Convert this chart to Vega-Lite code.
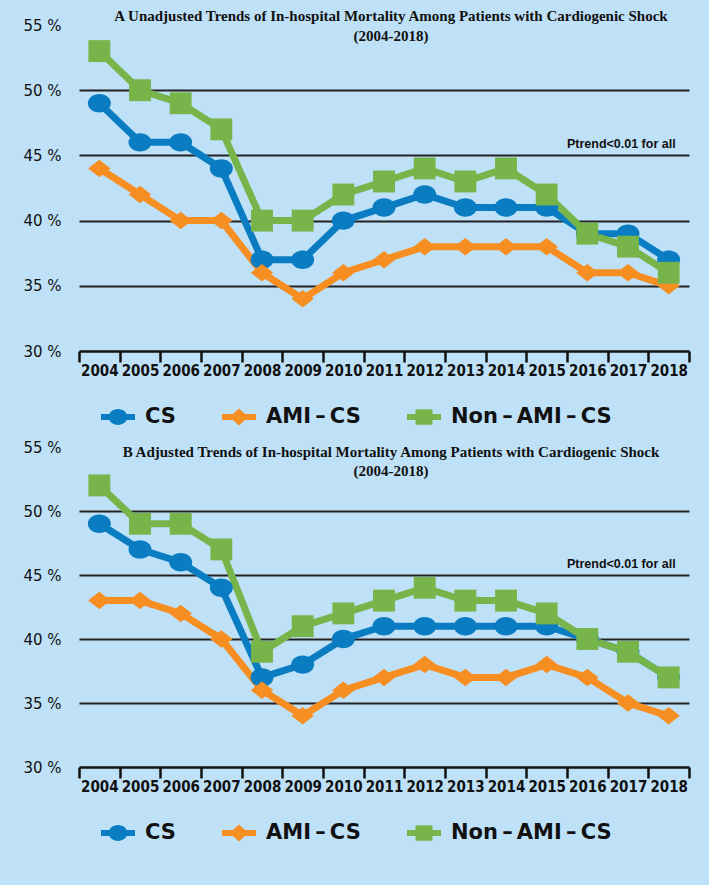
{
  "$schema": "https://vega.github.io/schema/vega-lite/v6.json",
  "background": "#bfe1f8",
  "padding": {"left": 22, "top": 9, "right": 20, "bottom": 42},
  "config": {
    "view": {"stroke": null},
    "font": "DejaVu Sans",
    "axisY": {
      "title": null, "domain": false, "ticks": false,
      "labelFont": "DejaVu Sans", "labelFontSize": 15, "labelColor": "#111",
      "labelPadding": 18, "gridColor": "#222", "gridWidth": 2,
      "gridOpacity": {"condition": {"test": "datum.value == 55 || datum.value == 30", "value": 0}, "value": 1},
      "labelExpr": "datum.value + ' %'"
    },
    "axisX": {
      "title": null, "labelAngle": 0, "domainColor": "#111", "domainWidth": 2.5,
      "tickColor": "#111", "tickWidth": 2.5, "tickSize": 11, "tickBand": "extent",
      "labelFont": "Liberation Sans Narrow, DejaVu Sans Condensed, sans-serif",
      "labelFontWeight": "bold", "labelFontSize": 15, "labelColor": "#111", "labelPadding": 1, "grid": false
    },
    "legend": {
      "orient": "bottom", "direction": "horizontal", "title": null,
      "labelFont": "DejaVu Sans", "labelFontWeight": "bold", "labelFontSize": 21, "labelColor": "#111", "labelLimit": 400,
      "symbolSize": 1156, "symbolStrokeWidth": 0, "columnPadding": 24, "labelOffset": 10, "offset": 22, "symbolOffset": 22
    },
    "title": {"font": "Liberation Serif", "fontWeight": "bold", "fontSize": 15, "color": "#111", "anchor": "middle", "frame": "group"}
  },
  "datasets": {
    "A": [
      {"year": "2004", "series": "CS", "value": 49}, {"year": "2005", "series": "CS", "value": 46}, {"year": "2006", "series": "CS", "value": 46}, {"year": "2007", "series": "CS", "value": 44}, {"year": "2008", "series": "CS", "value": 37}, {"year": "2009", "series": "CS", "value": 37}, {"year": "2010", "series": "CS", "value": 40}, {"year": "2011", "series": "CS", "value": 41}, {"year": "2012", "series": "CS", "value": 42}, {"year": "2013", "series": "CS", "value": 41}, {"year": "2014", "series": "CS", "value": 41}, {"year": "2015", "series": "CS", "value": 41}, {"year": "2016", "series": "CS", "value": 39}, {"year": "2017", "series": "CS", "value": 39}, {"year": "2018", "series": "CS", "value": 37},
      {"year": "2004", "series": "AMI-CS", "value": 44}, {"year": "2005", "series": "AMI-CS", "value": 42}, {"year": "2006", "series": "AMI-CS", "value": 40}, {"year": "2007", "series": "AMI-CS", "value": 40}, {"year": "2008", "series": "AMI-CS", "value": 36}, {"year": "2009", "series": "AMI-CS", "value": 34}, {"year": "2010", "series": "AMI-CS", "value": 36}, {"year": "2011", "series": "AMI-CS", "value": 37}, {"year": "2012", "series": "AMI-CS", "value": 38}, {"year": "2013", "series": "AMI-CS", "value": 38}, {"year": "2014", "series": "AMI-CS", "value": 38}, {"year": "2015", "series": "AMI-CS", "value": 38}, {"year": "2016", "series": "AMI-CS", "value": 36}, {"year": "2017", "series": "AMI-CS", "value": 36}, {"year": "2018", "series": "AMI-CS", "value": 35},
      {"year": "2004", "series": "Non-AMI-CS", "value": 53}, {"year": "2005", "series": "Non-AMI-CS", "value": 50}, {"year": "2006", "series": "Non-AMI-CS", "value": 49}, {"year": "2007", "series": "Non-AMI-CS", "value": 47}, {"year": "2008", "series": "Non-AMI-CS", "value": 40}, {"year": "2009", "series": "Non-AMI-CS", "value": 40}, {"year": "2010", "series": "Non-AMI-CS", "value": 42}, {"year": "2011", "series": "Non-AMI-CS", "value": 43}, {"year": "2012", "series": "Non-AMI-CS", "value": 44}, {"year": "2013", "series": "Non-AMI-CS", "value": 43}, {"year": "2014", "series": "Non-AMI-CS", "value": 44}, {"year": "2015", "series": "Non-AMI-CS", "value": 42}, {"year": "2016", "series": "Non-AMI-CS", "value": 39}, {"year": "2017", "series": "Non-AMI-CS", "value": 38}, {"year": "2018", "series": "Non-AMI-CS", "value": 36}
    ],
    "B": [
      {"year": "2004", "series": "CS", "value": 49}, {"year": "2005", "series": "CS", "value": 47}, {"year": "2006", "series": "CS", "value": 46}, {"year": "2007", "series": "CS", "value": 44}, {"year": "2008", "series": "CS", "value": 37}, {"year": "2009", "series": "CS", "value": 38}, {"year": "2010", "series": "CS", "value": 40}, {"year": "2011", "series": "CS", "value": 41}, {"year": "2012", "series": "CS", "value": 41}, {"year": "2013", "series": "CS", "value": 41}, {"year": "2014", "series": "CS", "value": 41}, {"year": "2015", "series": "CS", "value": 41}, {"year": "2016", "series": "CS", "value": 40}, {"year": "2017", "series": "CS", "value": 39}, {"year": "2018", "series": "CS", "value": 37},
      {"year": "2004", "series": "AMI-CS", "value": 43}, {"year": "2005", "series": "AMI-CS", "value": 43}, {"year": "2006", "series": "AMI-CS", "value": 42}, {"year": "2007", "series": "AMI-CS", "value": 40}, {"year": "2008", "series": "AMI-CS", "value": 36}, {"year": "2009", "series": "AMI-CS", "value": 34}, {"year": "2010", "series": "AMI-CS", "value": 36}, {"year": "2011", "series": "AMI-CS", "value": 37}, {"year": "2012", "series": "AMI-CS", "value": 38}, {"year": "2013", "series": "AMI-CS", "value": 37}, {"year": "2014", "series": "AMI-CS", "value": 37}, {"year": "2015", "series": "AMI-CS", "value": 38}, {"year": "2016", "series": "AMI-CS", "value": 37}, {"year": "2017", "series": "AMI-CS", "value": 35}, {"year": "2018", "series": "AMI-CS", "value": 34},
      {"year": "2004", "series": "Non-AMI-CS", "value": 52}, {"year": "2005", "series": "Non-AMI-CS", "value": 49}, {"year": "2006", "series": "Non-AMI-CS", "value": 49}, {"year": "2007", "series": "Non-AMI-CS", "value": 47}, {"year": "2008", "series": "Non-AMI-CS", "value": 39}, {"year": "2009", "series": "Non-AMI-CS", "value": 41}, {"year": "2010", "series": "Non-AMI-CS", "value": 42}, {"year": "2011", "series": "Non-AMI-CS", "value": 43}, {"year": "2012", "series": "Non-AMI-CS", "value": 44}, {"year": "2013", "series": "Non-AMI-CS", "value": 43}, {"year": "2014", "series": "Non-AMI-CS", "value": 43}, {"year": "2015", "series": "Non-AMI-CS", "value": 42}, {"year": "2016", "series": "Non-AMI-CS", "value": 40}, {"year": "2017", "series": "Non-AMI-CS", "value": 39}, {"year": "2018", "series": "Non-AMI-CS", "value": 37}
    ],
    "note": [{"label": "Ptrend<0.01 for all"}]
  },
  "spacing": 13,
  "resolve": {"legend": {"color": "independent"}},
  "vconcat": [
    {
      "width": 610, "height": 326,
      "title": {"text": ["A  Unadjusted Trends of In-hospital Mortality Among Patients with Cardiogenic Shock", "(2004-2018)"], "offset": -26, "lineHeight": 20, "dx": 7},
      "layer": [
        {
          "data": {"name": "A"},
          "mark": {"type": "line", "strokeWidth": 7},
          "encoding": {
            "x": {"field": "year", "type": "ordinal", "scale": {"type": "band", "paddingInner": 0, "paddingOuter": 0}},
            "y": {"field": "value", "type": "quantitative", "scale": {"domain": [30, 55], "nice": false, "zero": false}, "axis": {"values": [30, 35, 40, 45, 50, 55]}},
            "color": {"field": "series", "type": "nominal", "scale": {"domain": ["CS", "AMI-CS", "Non-AMI-CS"], "range": ["#0a7dc2", "#f68e22", "#77b54b"]},
              "legend": {
                "labelExpr": "replace(datum.label, /-/g, '\u2009–\u2009')",
                "encode": {"symbols": {"update": {
                  "shape": {"signal": "datum.value === 'CS' ? 'M-1,-0.18L1,-0.18L1,0.18L-1,0.18Z M0.55,0A0.55,0.47 0 1,1 -0.55,0A0.55,0.47 0 1,1 0.55,0Z' : datum.value === 'AMI-CS' ? 'M-1,-0.18L1,-0.18L1,0.18L-1,0.18Z M0,-0.5L0.55,0L0,0.5L-0.55,0Z' : 'M-1,-0.18L1,-0.18L1,0.18L-1,0.18Z M-0.5,-0.45L0.5,-0.45L0.5,0.45L-0.5,0.45Z'"},
                  "fill": {"signal": "datum.value === 'CS' ? '#0a7dc2' : datum.value === 'AMI-CS' ? '#f68e22' : '#77b54b'"},
                  "stroke": {"value": "transparent"}, "opacity": {"value": 1}
                }}}
              }}
          }
        },
        {
          "data": {"name": "A"},
          "mark": {"type": "point", "filled": true, "opacity": 1},
          "encoding": {
            "x": {"field": "year", "type": "ordinal"},
            "y": {"field": "value", "type": "quantitative"},
            "color": {"field": "series", "type": "nominal"},
            "shape": {"field": "series", "type": "nominal", "scale": {"domain": ["CS", "AMI-CS", "Non-AMI-CS"], "range": ["M1,0A1,0.8 0 1,1 -1,0A1,0.8 0 1,1 1,0Z", "M0,-0.78L1,0L0,0.78L-1,0Z", "square"]}, "legend": null},
            "size": {"field": "series", "type": "nominal", "scale": {"domain": ["CS", "AMI-CS", "Non-AMI-CS"], "range": [530, 480, 560]}, "legend": null}
          }
        },
        {
          "data": {"name": "note"},
          "mark": {"type": "text", "align": "right", "baseline": "bottom", "dx": 7, "dy": -4, "font": "Liberation Sans", "fontWeight": "bold", "fontSize": 12.5, "color": "#111"},
          "encoding": {
            "x": {"datum": "2018", "type": "ordinal"},
            "y": {"datum": 45, "type": "quantitative"},
            "text": {"field": "label"}
          }
        }
      ]
    },
    {
      "width": 610, "height": 320,
      "title": {"text": ["B   Adjusted Trends of In-hospital Mortality Among Patients with Cardiogenic Shock", "(2004-2018)"], "offset": -39, "lineHeight": 19, "dx": 7},
      "layer": [
        {
          "data": {"name": "B"},
          "mark": {"type": "line", "strokeWidth": 7},
          "encoding": {
            "x": {"field": "year", "type": "ordinal", "scale": {"type": "band", "paddingInner": 0, "paddingOuter": 0}},
            "y": {"field": "value", "type": "quantitative", "scale": {"domain": [30, 55], "nice": false, "zero": false}, "axis": {"values": [30, 35, 40, 45, 50, 55]}},
            "color": {"field": "series", "type": "nominal", "scale": {"domain": ["CS", "AMI-CS", "Non-AMI-CS"], "range": ["#0a7dc2", "#f68e22", "#77b54b"]},
              "legend": {
                "labelExpr": "replace(datum.label, /-/g, '\u2009–\u2009')",
                "encode": {"symbols": {"update": {
                  "shape": {"signal": "datum.value === 'CS' ? 'M-1,-0.18L1,-0.18L1,0.18L-1,0.18Z M0.55,0A0.55,0.47 0 1,1 -0.55,0A0.55,0.47 0 1,1 0.55,0Z' : datum.value === 'AMI-CS' ? 'M-1,-0.18L1,-0.18L1,0.18L-1,0.18Z M0,-0.5L0.55,0L0,0.5L-0.55,0Z' : 'M-1,-0.18L1,-0.18L1,0.18L-1,0.18Z M-0.5,-0.45L0.5,-0.45L0.5,0.45L-0.5,0.45Z'"},
                  "fill": {"signal": "datum.value === 'CS' ? '#0a7dc2' : datum.value === 'AMI-CS' ? '#f68e22' : '#77b54b'"},
                  "stroke": {"value": "transparent"}, "opacity": {"value": 1}
                }}}
              }}
          }
        },
        {
          "data": {"name": "B"},
          "mark": {"type": "point", "filled": true, "opacity": 1},
          "encoding": {
            "x": {"field": "year", "type": "ordinal"},
            "y": {"field": "value", "type": "quantitative"},
            "color": {"field": "series", "type": "nominal"},
            "shape": {"field": "series", "type": "nominal", "scale": {"domain": ["CS", "AMI-CS", "Non-AMI-CS"], "range": ["M1,0A1,0.8 0 1,1 -1,0A1,0.8 0 1,1 1,0Z", "M0,-0.78L1,0L0,0.78L-1,0Z", "square"]}, "legend": null},
            "size": {"field": "series", "type": "nominal", "scale": {"domain": ["CS", "AMI-CS", "Non-AMI-CS"], "range": [530, 480, 560]}, "legend": null}
          }
        },
        {
          "data": {"name": "note"},
          "mark": {"type": "text", "align": "right", "baseline": "bottom", "dx": 7, "dy": -4, "font": "Liberation Sans", "fontWeight": "bold", "fontSize": 12.5, "color": "#111"},
          "encoding": {
            "x": {"datum": "2018", "type": "ordinal"},
            "y": {"datum": 45, "type": "quantitative"},
            "text": {"field": "label"}
          }
        }
      ]
    }
  ]
}
